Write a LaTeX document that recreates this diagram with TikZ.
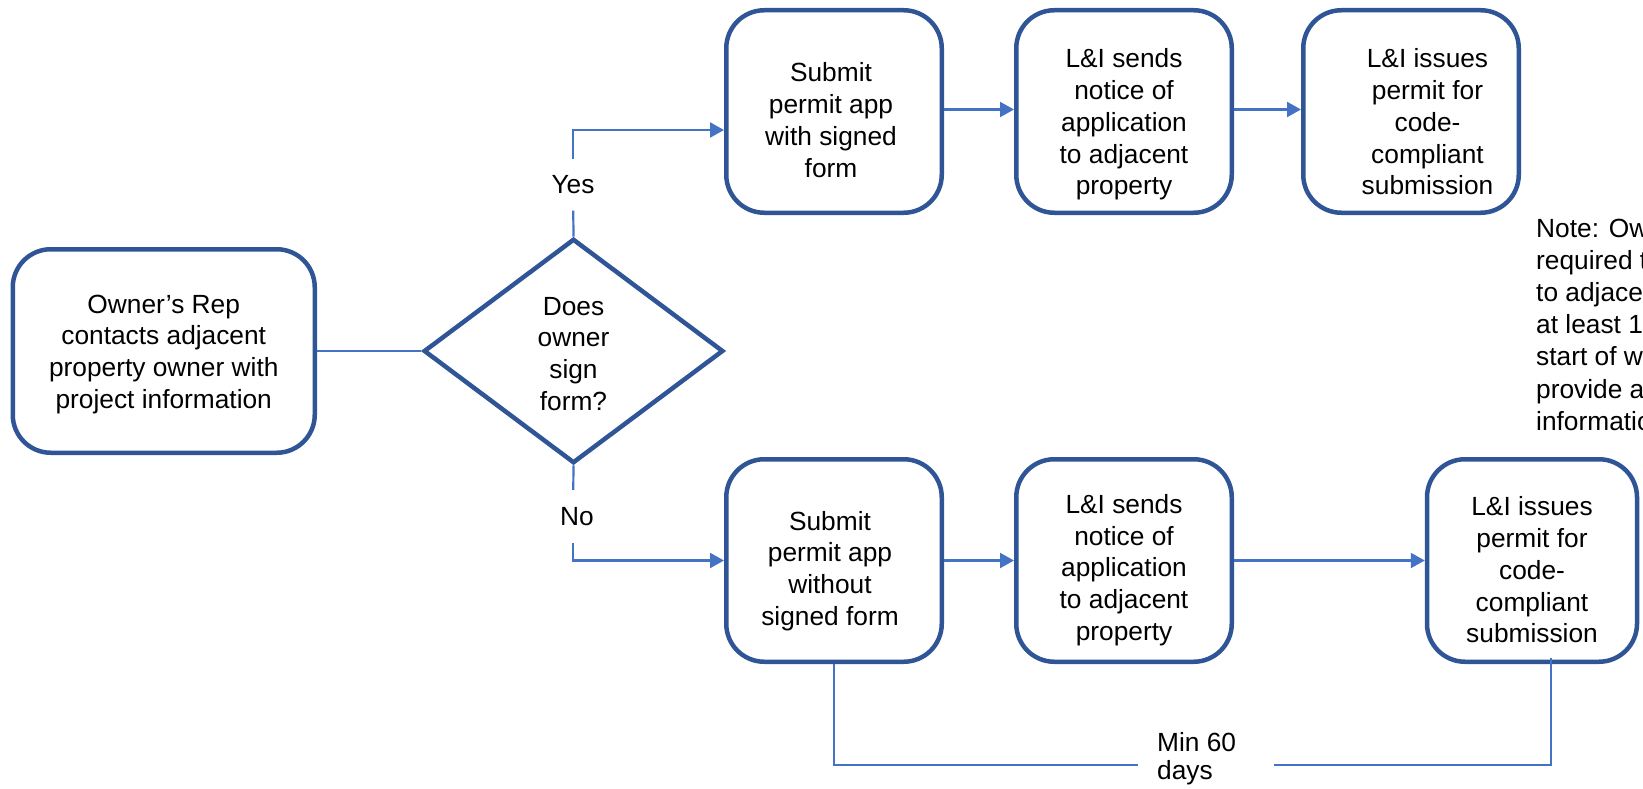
\documentclass[tikz,border=0pt]{standalone}
\usepackage{fontspec}
\setmainfont{Liberation Sans}
\usetikzlibrary{shapes.geometric,arrows.meta}
\definecolor{boxblue}{HTML}{2F5597}
\definecolor{linkblue}{HTML}{4472C4}
\newcommand\bt[3]{\raisebox{-#2pt}[\height][\depth]{\hspace*{#1pt}\hspace*{#1pt}\begin{tabular}{@{}c@{}}#3\end{tabular}}}
\begin{document}
\begin{tikzpicture}[x=1pt,y=-1pt,
  txt/.style={font=\fontsize{26.3pt}{31.8pt}\selectfont},
  procbox/.style={txt, draw=boxblue, line width=4.5pt, rounded corners=38pt, fill=white,
    minimum width=215.5pt, minimum height=202.5pt, inner sep=0pt},
  decbox/.style={txt, diamond, draw=boxblue, line width=4.5pt, fill=white,
    minimum width=299.6pt, minimum height=224.4pt, inner sep=0pt},
  conn/.style={draw=linkblue, line width=2.2pt},
  arr/.style={conn, -{Triangle[length=14pt,width=15pt]}},
  brlabel/.style={txt, inner sep=0pt}]
\useasboundingbox (0,0) rectangle (1643,789);
\clip (0,0) rectangle (1643,789);

\node[procbox, minimum width=302pt, minimum height=203.5pt] (b1) at (163.75,351)
  {\bt{0}{3.4}{Owner’s Rep\\contacts adjacent\\property owner with\\project information}};
\node[decbox] (d) at (573.5,351) {\bt{0}{5.4}{Does\\owner\\sign\\form?}};

\node[procbox] (b2) at (834,111.5) {\bt{-3}{11.5}{Submit\\permit app\\with signed\\form}};
\node[procbox] (b3) at (1124,111.5) {\bt{0}{13.5}{L\&I sends\\notice of\\application\\to adjacent\\property}};
\node[procbox] (b4) at (1411,111.5) {\bt{16.5}{13.5}{L\&I issues\\permit for\\code-\\compliant\\submission}};

\node[procbox] (b5) at (834,560.5) {\bt{-4}{11}{Submit\\permit app\\without\\signed form}};
\node[procbox] (b6) at (1124,560.5) {\bt{0}{10}{L\&I sends\\notice of\\application\\to adjacent\\property}};
\node[procbox, minimum width=210pt] (b7) at (1532,560.5) {\bt{0}{12.5}{L\&I issues\\permit for\\code-\\compliant\\submission}};

\node[brlabel, minimum height=51pt] (yes) at (573,185) {Yes};
\node[brlabel, minimum height=53pt] (no) at (573,516.5) {\hspace*{4pt}\hspace*{4pt}No};

\node[brlabel, anchor=west, inner xsep=19pt, font=\fontsize{26.3pt}{27.5pt}\selectfont] (min) at (1138,765)
  {\raisebox{5.25pt}[\height][\depth]{\makebox[98pt][l]{\begin{tabular}{@{}l@{}}Min 60\\days\end{tabular}}}};

\node[anchor=base west, align=left, inner sep=0pt, font=\fontsize{26.3pt}{32.2pt}\selectfont] (note) at (1536,430.2)
  {Note: Ow\\required t\\to adjace\\at least 1\\start of w\\provide a\\informatio};

\coordinate (rc) at (1551,658);

\draw[conn] (b1.east) -- (d.west);
\draw[conn] (d.north) -- (yes);
\draw[arr] (yes) |- ([yshift=-18.5pt]b2.west);
\draw[conn] (d.south) -- (no);
\draw[arr] (no) |- (b5.west);
\draw[arr] ([yshift=2pt]b2.east) -- ([yshift=2pt]b3.west);
\draw[arr] ([yshift=2pt]b3.east) -- ([yshift=2pt]b4.west);
\draw[arr] (b5) -- (b6);
\draw[arr] (b6) -- (b7);
\draw[conn] (b5.south) |- (min.west);
\draw[conn] (min.east) -| (rc);
\end{tikzpicture}
\end{document}
